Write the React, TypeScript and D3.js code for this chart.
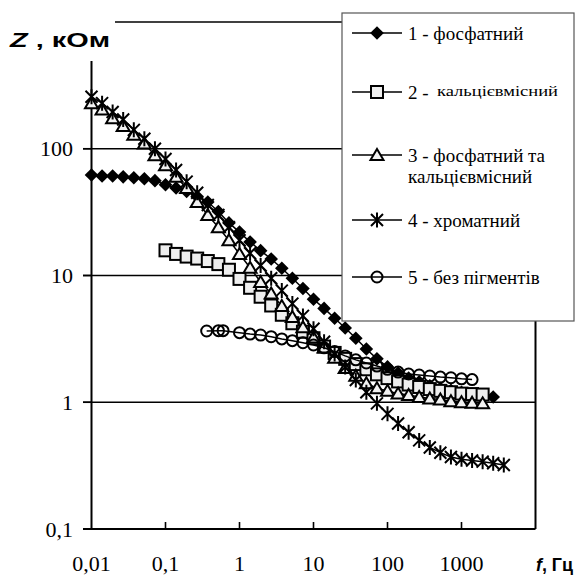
import React from 'react';
import * as d3 from 'd3';

// Frequency grid (Hz), 7 points per decade
const freqGrid = [0.01, 0.0139, 0.0193, 0.0268, 0.0373, 0.0518, 0.072, 0.1, 0.139, 0.193, 0.268, 0.373, 0.518, 0.72, 1, 1.39, 1.93, 2.68, 3.73, 5.18, 7.2, 10, 13.9, 19.3, 26.8, 37.3, 51.8, 72, 100, 139, 193, 268, 373, 518, 720, 1000, 1390, 1930, 2680, 3730];

// 1 - фосфатний (freq index 0..38)
const zPhosphate = [62, 61, 61, 60, 59, 58, 56, 52, 49, 46, 42, 38, 32, 26, 22, 18.4, 15.7, 13.5, 11.4, 9.5, 7.9, 6.5, 5.5, 4.6, 3.85, 3.2, 2.63, 2.2, 1.9, 1.7, 1.55, 1.45, 1.35, 1.29, 1.24, 1.2, 1.16, 1.12, 1.1];
// 2 - кальцієвмісний (freq index 7..37)
const zCalcium = [15.8, 14.8, 14.1, 13.6, 13, 12.3, 11.1, 9.4, 8.0, 6.8, 5.8, 4.9, 4.2, 3.6, 3.2, 2.75, 2.45, 2.2, 2.0, 1.82, 1.66, 1.55, 1.46, 1.38, 1.32, 1.27, 1.23, 1.2, 1.17, 1.16, 1.15];
// 3 - фосфатний та кальцієвмісний (freq index 0..37)
const zMixed = [229, 204, 174, 151, 129, 110, 89, 74, 60, 49, 38, 30, 24, 19, 14.8, 11.5, 8.9, 7.2, 5.75, 4.7, 3.9, 3.24, 2.7, 2.24, 1.86, 1.62, 1.41, 1.29, 1.23, 1.17, 1.14, 1.1, 1.07, 1.05, 1.02, 1.0, 0.99, 0.98];
// 4 - хроматний (freq index 0..39)
const zChromate = [257, 229, 195, 170, 141, 120, 100, 83, 68, 55, 45, 36, 30, 24, 19, 15, 12, 9.5, 7.6, 6.0, 4.8, 3.8, 3.0, 2.4, 1.9, 1.5, 1.2, 0.98, 0.81, 0.68, 0.58, 0.50, 0.44, 0.40, 0.37, 0.355, 0.347, 0.34, 0.33, 0.32];
// 5 - без пігментів
const fNone = [0.36, 0.52, 0.6, 1, 1.39, 1.93, 2.68, 3.73, 5.18, 7.2, 10, 13.9, 19.3, 26.8, 37.3, 51.8, 72, 100, 139, 193, 268, 373, 518, 720, 1000, 1390];
const zNone = [3.65, 3.67, 3.67, 3.54, 3.45, 3.39, 3.29, 3.16, 3.06, 2.95, 2.83, 2.69, 2.51, 2.32, 2.16, 2.04, 1.93, 1.82, 1.73, 1.67, 1.64, 1.61, 1.58, 1.56, 1.53, 1.51];

const xTicks = [0.01, 0.1, 1, 10, 100, 1000];
const xTickLabels = ['0,01', '0,1', '1', '10', '100', '1000'];
const yTicks = [0.1, 1, 10, 100];
const yTickLabels = ['0,1', '1', '10', '100'];
const yGrid = [1, 10, 100, 1000];

const legendNames = ['1 - фосфатний', '2 - ', '3 - фосфатний та', '4 - хроматний', '5 - без пігментів'];
const legendExtra = ['', 'кальцієвмісний', 'кальцієвмісний', '', ''];

type Kind = 'diamond' | 'square' | 'triangle' | 'star' | 'circle';

const series: { kind: Kind; f: number[]; z: number[] }[] = [
  { kind: 'diamond', f: freqGrid.slice(0, zPhosphate.length), z: zPhosphate },
  { kind: 'square', f: freqGrid.slice(7, 7 + zCalcium.length), z: zCalcium },
  { kind: 'triangle', f: freqGrid.slice(0, zMixed.length), z: zMixed },
  { kind: 'star', f: freqGrid.slice(0, zChromate.length), z: zChromate },
  { kind: 'circle', f: fNone, z: zNone },
];

const SERIF = 'Liberation Serif, Times New Roman, DejaVu Serif, serif';
const SANS = 'Liberation Sans, Arial, sans-serif';

function Marker({ kind, x, y }: { kind: Kind; x: number; y: number }) {
  const t = `translate(${x},${y})`;
  switch (kind) {
    case 'diamond':
      return <path transform={t} d="M0,-6.8L6.8,0L0,6.8L-6.8,0Z" fill="#000" />;
    case 'square':
      return <rect transform={t} x={-6} y={-6} width={12} height={12} fill="#eeeeee" stroke="#000" strokeWidth={2} />;
    case 'triangle':
      return <path transform={t} d="M0,-6L6.5,5L-6.5,5Z" fill="#f2f2f2" stroke="#000" strokeWidth={2} strokeLinejoin="miter" />;
    case 'star':
      return <path transform={t} d="M-6,-6L6,6M-6,6L6,-6M0,-7.5L0,7.5" fill="none" stroke="#000" strokeWidth={2} />;
    case 'circle':
      return <circle transform={t} r={5.5} fill="none" stroke="#000" strokeWidth={2} />;
  }
}

export default function App() {
  const x = d3.scaleLog().domain([0.01, 10000]).range([91.5, 535.5]);
  const y = d3.scaleLog().domain([0.1, 1000]).range([529, 22]);
  const line = d3.line<[number, number]>().x(d => x(d[0])).y(d => y(d[1]));

  const legendX = 342, legendY = 13, legendW = 232, legendH = 308;
  const legendRows = [33, 92, 155, 220, 277];

  return (
    <svg width={575} height={575} style={{ position: 'absolute', left: 0, top: 0, background: '#fff' }}>
      <rect x={0} y={0} width={575} height={575} fill="#fff" />
      {/* gridlines */}
      {yGrid.map(v => (
        <line key={v} x1={v === 1000 ? x(0.01) : 83} x2={x(10000)} y1={y(v)} y2={y(v)} stroke="#000" strokeWidth={1.6} />
      ))}
      {/* frame */}
      <line x1={x(0.01)} x2={x(0.01)} y1={y(1000)} y2={y(0.1)} stroke="#000" strokeWidth={2} />
      <line x1={x(10000)} x2={x(10000)} y1={y(1000)} y2={y(0.1)} stroke="#000" strokeWidth={2} />
      <line x1={83} x2={x(10000)} y1={y(0.1)} y2={y(0.1)} stroke="#000" strokeWidth={2} />
      {yTicks.map(v => (
        <line key={v} x1={83} x2={x(0.01)} y1={y(v)} y2={y(v)} stroke="#000" strokeWidth={1.6} />
      ))}
      {xTicks.slice(1).map(v => (
        <line key={v} x1={x(v)} x2={x(v)} y1={y(0.1) - 7} y2={y(0.1)} stroke="#000" strokeWidth={1.6} />
      ))}
      {/* tick labels */}
      {yTicks.map((v, i) => (
        <text key={v} x={73} y={y(v) + 7.5} textAnchor="end" fontFamily={SERIF} fontSize={22} fill="#000">{yTickLabels[i]}</text>
      ))}
      {xTicks.map((v, i) => (
        <text key={v} x={x(v)} y={571} textAnchor="middle" fontFamily={SERIF} fontSize={22} fill="#000">{xTickLabels[i]}</text>
      ))}
      {/* series */}
      {series.map((s, si) => {
        const pts = s.f.map((f, k) => [f, s.z[k]] as [number, number]);
        return (
          <g key={si}>
            <path d={line(pts) || ''} fill="none" stroke="#000" strokeWidth={1.5} />
            {pts.map((p, k) => <Marker key={k} kind={s.kind} x={x(p[0])} y={y(p[1])} />)}
          </g>
        );
      })}
      {/* Y axis title with white backing */}
      <rect x={0} y={0} width={115} height={61} fill="#fff" />
      <text x={10} y={47} fontFamily={SANS} fontWeight="bold" fontSize={21} fill="#000" textLength={100} lengthAdjust="spacingAndGlyphs">
        <tspan fontStyle="italic">Z</tspan> , кОм
      </text>
      {/* X axis title */}
      <text x={536} y={571} fontFamily={SANS} fontWeight="bold" fontSize={19} fill="#000" textLength={37} lengthAdjust="spacingAndGlyphs">
        <tspan fontStyle="italic">f</tspan>, Гц
      </text>
      {/* legend */}
      <rect x={legendX} y={legendY} width={legendW} height={legendH} fill="#fff" stroke="#555" strokeWidth={1.2} />
      {series.map((s, i) => (
        <g key={i}>
          <line x1={352} x2={402} y1={legendRows[i]} y2={legendRows[i]} stroke="#000" strokeWidth={1.5} />
          <Marker kind={s.kind} x={377} y={legendRows[i]} />
          <text x={408} y={legendRows[i] + 7} fontFamily={SERIF} fontSize={19} fill="#000">{legendNames[i]}</text>
        </g>
      ))}
      <text x={437} y={96} fontFamily={SERIF} fontSize={15} fill="#000" textLength={121} lengthAdjust="spacingAndGlyphs">{legendExtra[1]}</text>
      <text x={408} y={183} fontFamily={SERIF} fontSize={19} fill="#000">{legendExtra[2]}</text>
    </svg>
  );
}
